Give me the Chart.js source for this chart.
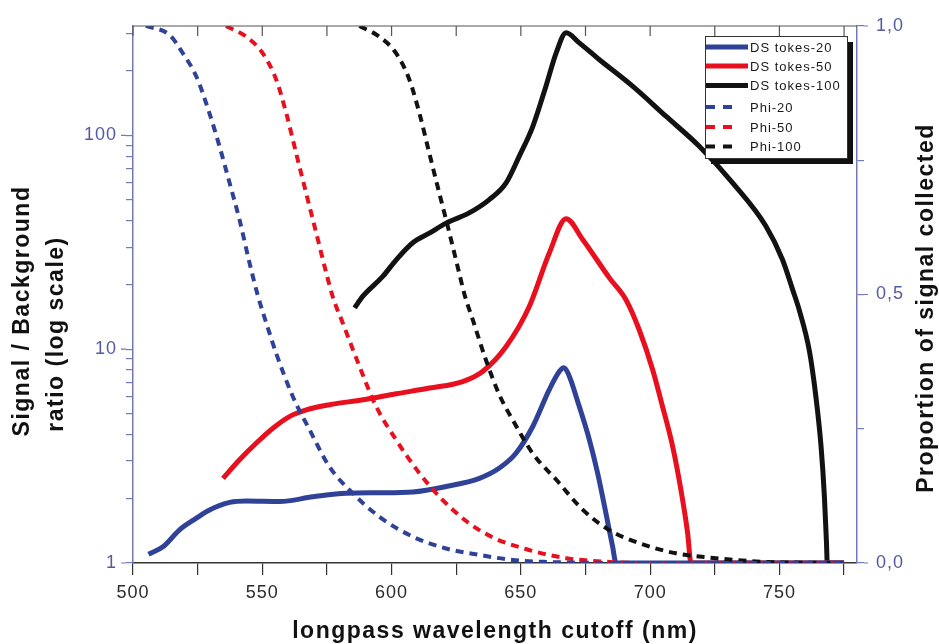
<!DOCTYPE html>
<html>
<head>
<meta charset="utf-8">
<title>Signal / Background vs longpass cutoff</title>
<script src="https://cdn.jsdelivr.net/npm/chart.js@4"></script>
<style>
  html, body { margin: 0; padding: 0; background: #fff; }
</style>
</head>
<body>
<canvas id="chart" width="939" height="644"></canvas>
<script>
// axis ticks
const wavelengthTicks = [500, 525, 550, 575, 600, 625, 650, 675, 700, 725, 750, 775];
const ratioTicks = [1, 2, 3, 4, 5, 6, 7, 8, 9, 10, 20, 30, 40, 50, 60, 70, 80, 90, 100, 200, 300];
const proportionTicks = [0, 0.25, 0.5, 0.75, 1];

// signal / background ratio (left, log axis)
const ds20X = [506, 511.6, 518, 524.5, 529.6, 537.4, 543.8, 556.7, 569.6, 582.5, 595.3, 608.2, 621.1, 634, 641.7, 648.1, 654.6, 661, 665, 666.6, 668.3, 672.6, 676.5, 679.7, 682.9, 685.5, 686.8, 700, 740, 775];
const ds20Y = [1.10, 1.19, 1.43, 1.62, 1.77, 1.92, 1.95, 1.94, 2.04, 2.12, 2.13, 2.15, 2.28, 2.49, 2.78, 3.26, 4.35, 6.47, 7.9, 8.2, 7.7, 5.39, 3.77, 2.63, 1.71, 1.19, 1.0, 1.0, 1.0, 1.0];

const ds50X = [534.8, 541.2, 547.7, 554.1, 560.5, 567, 576, 588.9, 601.8, 614.6, 627.5, 635.2, 644.3, 653.3, 661, 667.5, 673.9, 684.3, 690.7, 695.8, 701, 704.8, 708.7, 711.9, 714.5, 715.8, 730, 775];
const ds50Y = [2.49, 3.04, 3.64, 4.27, 4.84, 5.2, 5.5, 5.8, 6.19, 6.58, 7.06, 7.87, 10.3, 15.9, 28.2, 40.8, 32.6, 21.5, 17.0, 12.3, 8.0, 5.39, 3.51, 2.2, 1.38, 1.0, 1.0, 1.0];

const ds100X = [585.7, 588.9, 596.6, 601.8, 608.2, 614.6, 621.1, 630, 637.8, 644.3, 649.4, 654.6, 659.7, 663.7, 667.5, 672.6, 680.4, 693.2, 706.1, 719, 731.9, 744.8, 751.2, 755.1, 757.7, 761.6, 764.1, 766.1, 767.4, 768.2, 768.5, 775];
const ds100Y = [15.6, 17.7, 21.9, 26.2, 31.5, 34.9, 38.9, 43.4, 50.1, 60, 80, 110, 170, 244, 302, 271, 226, 170, 123, 89, 60, 37.6, 26.2, 19.0, 15.2, 9.8, 6.0, 3.51, 2.04, 1.24, 1.0, 1.0];

// proportion of signal collected (right axis)
const phi20X = [505, 514.2, 519.3, 524.5, 529.6, 533.5, 537.4, 541.2, 545.1, 548.4, 552, 555.4, 561.8, 568.3, 576, 583.7, 595.3, 608.2, 621.1, 634, 646.9, 660, 675, 690, 775];
const phi20Y = [1.0, 0.983, 0.949, 0.906, 0.837, 0.775, 0.707, 0.639, 0.558, 0.496, 0.44, 0.39, 0.31, 0.248, 0.179, 0.136, 0.086, 0.049, 0.027, 0.015, 0.0056, 0.002, 0.0005, 0, 0];

const phi50X = [536, 543.8, 550.2, 555.4, 559.3, 563.1, 567, 570.9, 574.8, 577.3, 581.2, 587.6, 594.1, 601.8, 610.8, 619.8, 630, 640.3, 651.9, 660, 667.5, 675, 684.3, 695, 775];
const phi50Y = [1.0, 0.98, 0.949, 0.9, 0.837, 0.763, 0.688, 0.614, 0.539, 0.495, 0.446, 0.366, 0.291, 0.229, 0.167, 0.117, 0.074, 0.045, 0.026, 0.016, 0.009, 0.005, 0.002, 0, 0];

const phi100X = [587.6, 595.3, 601.8, 606.9, 610.8, 614.6, 618.5, 622.4, 626.2, 628.2, 631.4, 636.5, 641.7, 646.9, 654.6, 663.7, 674, 684.3, 695.8, 710, 725.4, 744.8, 760, 774];
const phi100Y = [1.0, 0.98, 0.949, 0.9, 0.837, 0.763, 0.688, 0.614, 0.539, 0.5, 0.453, 0.378, 0.313, 0.266, 0.204, 0.155, 0.099, 0.061, 0.037, 0.018, 0.009, 0.002, 0.0005, 0];

const BLUE = '#2f4297';
const RED = '#e8101e';
const BLACK = '#121212';
const AXIS_BLUE = '#737ab9';
const LABEL_BLUE = '#545aa3';
const FONT = "'Liberation Sans', Arial, sans-serif";

const points = (xs, ys) => xs.map((x, i) => ({ x: x, y: ys[i] }));

const solid = (label, xs, ys, color) => ({
    label: label,
    data: points(xs, ys),
    yAxisID: 'y',
    borderColor: color,
    borderWidth: 5,
    pointRadius: 0,
    cubicInterpolationMode: 'monotone',
    order: 1
});

const dashed = (label, xs, ys, color) => ({
    label: label,
    data: points(xs, ys),
    yAxisID: 'y1',
    borderColor: color,
    borderWidth: 4,
    borderDash: [8, 6],
    pointRadius: 0,
    cubicInterpolationMode: 'monotone',
    order: 0
});

// frame, long ticks, axis titles and the boxed legend
const decorations = {
    id: 'decorations',
    beforeLayout(chart) { chart.ctx.letterSpacing = '1px'; },
    beforeDraw(chart) { chart.ctx.letterSpacing = '1px'; },
    afterDraw(chart) {
        const { ctx, chartArea: a, scales } = chart;
        ctx.save();

        // top border with inward ticks
        ctx.strokeStyle = '#555';
        ctx.lineWidth = 1.2;
        ctx.beginPath();
        ctx.moveTo(a.left, a.top);
        ctx.lineTo(a.right, a.top);
        wavelengthTicks.forEach(v => {
            const x = scales.x.getPixelForValue(v);
            ctx.moveTo(x, a.top);
            ctx.lineTo(x, a.top + 10);
        });
        ctx.stroke();

        // longer ticks at the labelled values
        ctx.strokeStyle = AXIS_BLUE;
        ctx.beginPath();
        [1, 10, 100].forEach(v => {
            const y = scales.y.getPixelForValue(v);
            ctx.moveTo(a.left - 12, y);
            ctx.lineTo(a.left - 7, y);
        });
        [0, 0.5, 1].forEach(v => {
            const y = scales.y1.getPixelForValue(v);
            ctx.moveTo(a.right + 7, y);
            ctx.lineTo(a.right + 11, y);
        });
        ctx.stroke();

        // axis titles
        ctx.fillStyle = '#111';
        ctx.font = 'bold 23px ' + FONT;
        ctx.letterSpacing = '1.5px';
        ctx.textAlign = 'center';
        ctx.textBaseline = 'alphabetic';
        ctx.fillText('longpass wavelength cutoff (nm)', (a.left + a.right) / 2, 638);

        const vertical = (text, x, y) => {
            ctx.save();
            ctx.translate(x, y);
            ctx.rotate(-Math.PI / 2);
            ctx.fillText(text, 0, 0);
            ctx.restore();
        };
        vertical('Signal / Background', 29, 311);
        vertical('ratio (log scale)', 63, 334);
        vertical('Proportion of signal collected', 933, 308);

        // legend box with drop shadow
        const box = { left: 705, top: 36, right: 847, bottom: 158 };
        ctx.fillStyle = '#111';
        ctx.fillRect(box.left + 6, box.top + 6, box.right - box.left, box.bottom - box.top);
        ctx.fillStyle = '#fff';
        ctx.fillRect(box.left, box.top, box.right - box.left, box.bottom - box.top);
        ctx.strokeStyle = '#333';
        ctx.lineWidth = 1;
        ctx.strokeRect(box.left + 0.5, box.top + 0.5, box.right - box.left, box.bottom - box.top);

        const rows = [47, 66, 85.5, 107, 127, 146.5];
        const order = [3, 4, 5, 0, 1, 2];
        ctx.font = '13px ' + FONT;
        ctx.letterSpacing = '1px';
        ctx.textAlign = 'left';
        ctx.textBaseline = 'middle';
        order.forEach((idx, r) => {
            const ds = chart.data.datasets[idx];
            const y = rows[r];
            ctx.save();
            ctx.strokeStyle = ds.borderColor;
            if (ds.borderDash) {
                ctx.lineWidth = 4;
                ctx.setLineDash([9, 8]);
                ctx.beginPath();
                ctx.moveTo(706, y);
                ctx.lineTo(735, y);
            } else {
                ctx.lineWidth = 5;
                ctx.beginPath();
                ctx.moveTo(706, y);
                ctx.lineTo(748, y);
            }
            ctx.stroke();
            ctx.restore();
            ctx.fillStyle = '#1a1a1a';
            ctx.fillText(ds.label, 750, y + 1);
        });

        ctx.restore();
    }
};

const chart = new Chart(document.querySelector('#chart').getContext('2d'), {
    type: 'line',
    data: {
        datasets: [
            dashed('Phi-20', phi20X, phi20Y, BLUE),
            dashed('Phi-50', phi50X, phi50Y, RED),
            dashed('Phi-100', phi100X, phi100Y, BLACK),
            solid('DS tokes-20', ds20X, ds20Y, BLUE),
            solid('DS tokes-50', ds50X, ds50Y, RED),
            solid('DS tokes-100', ds100X, ds100Y, BLACK)
        ]
    },
    options: {
        responsive: false,
        animation: false,
        layout: { padding: { top: 26, left: 0, right: 0, bottom: 0 } },
        plugins: {
            legend: { display: false },
            tooltip: { enabled: false }
        },
        scales: {
            x: {
                type: 'linear',
                min: 500,
                max: 780,
                afterBuildTicks: s => { s.ticks = wavelengthTicks.map(v => ({ value: v })); },
                afterFit: s => { s.height = 81; },
                ticks: {
                    autoSkip: false,
                    maxRotation: 0,
                    padding: 7,
                    color: '#2b2b2b',
                    font: { family: FONT, size: 18 },
                    callback: v => (v % 50 === 0 ? String(v) : '')
                },
                grid: { drawOnChartArea: false, tickLength: 12, color: '#333', lineWidth: 1.2 },
                border: { color: '#333', width: 1.5 }
            },
            y: {
                type: 'logarithmic',
                position: 'left',
                min: 1,
                max: 325,
                afterBuildTicks: s => { s.ticks = ratioTicks.map(v => ({ value: v })); },
                afterFit: s => { s.width = 133; },
                ticks: {
                    autoSkip: false,
                    padding: 9,
                    color: LABEL_BLUE,
                    font: { family: FONT, size: 18 },
                    callback: v => ([1, 10, 100].includes(v) ? String(v) : '')
                },
                grid: { drawOnChartArea: false, tickLength: 7, color: AXIS_BLUE, lineWidth: 1.2 },
                border: { color: AXIS_BLUE, width: 1.5 }
            },
            y1: {
                type: 'linear',
                position: 'right',
                min: 0,
                max: 1,
                afterBuildTicks: s => { s.ticks = proportionTicks.map(v => ({ value: v })); },
                afterFit: s => { s.width = 82; },
                ticks: {
                    autoSkip: false,
                    padding: 12,
                    color: LABEL_BLUE,
                    font: { family: FONT, size: 18 },
                    callback: v => (v % 0.5 === 0 ? v.toFixed(1).replace('.', ',') : '')
                },
                grid: { drawOnChartArea: false, tickLength: 7, color: AXIS_BLUE, lineWidth: 1.2 },
                border: { color: AXIS_BLUE, width: 1.5 }
            }
        }
    },
    plugins: [decorations]
});
</script>
</body>
</html>
